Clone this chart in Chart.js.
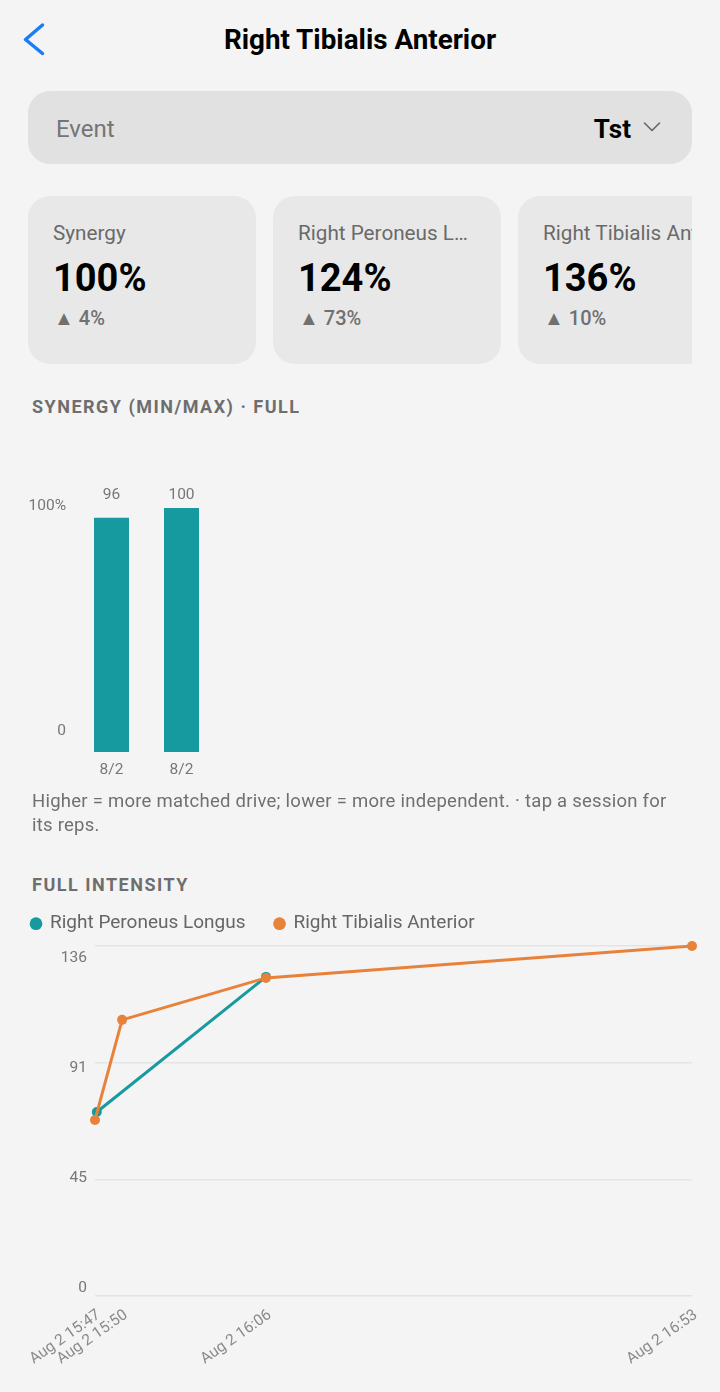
<!DOCTYPE html>
<html>
<head>
<meta charset="utf-8">
<script src="https://cdn.jsdelivr.net/npm/chart.js@4.4.1/dist/chart.umd.min.js"></script>
<style>
    html, body { margin: 0; padding: 0; }
    body { width: 720px; height: 1392px; background: #f4f4f4; position: relative; overflow: hidden; font-family: Roboto, "Noto Sans", sans-serif; }
    .abs { position: absolute; }
    .title { left: 0; width: 720px; top: 23px; text-align: center; font-size: 27.8px; font-weight: 700; color: #000; line-height: 34px; }
    .dropdown { left: 28px; top: 91px; width: 664px; height: 73px; border-radius: 22px; background: #e1e1e1; }
    .dropdown .label { left: 28px; top: 2px; line-height: 73px; font-size: 24px; color: #757575; }
    .dropdown .value { right: 61px; top: 2px; line-height: 73px; font-size: 26px; font-weight: 700; color: #000; }
    .cards { left: 28px; top: 196px; width: 664px; height: 168px; overflow: hidden; }
    .card { top: 0; width: 228px; height: 168px; border-radius: 22px; background: #e8e8e8; }
    .card .name { left: 25px; top: 24px; font-size: 20.7px; color: #6a6a6a; white-space: nowrap; line-height: 26px; }
    .card .big { left: 25px; top: 59px; font-size: 38px; font-weight: 700; color: #000; line-height: 46px; }
    .card .delta { left: 26px; top: 110px; font-size: 20px; font-weight: 500; color: #707070; line-height: 24px; }
    .section { left: 32px; font-size: 18px; font-weight: 700; color: #6e6e6e; letter-spacing: 1.5px; line-height: 22px; }
    .note { left: 32px; top: 789px; width: 650px; font-size: 18.5px; letter-spacing: 0.25px; color: #707070; line-height: 24px; }
</style>
</head>
<body>
<svg class="abs" style="left:0;top:0" width="60" height="70">
    <polyline points="42.5,25 25.5,39.5 42.5,53.5" fill="none" stroke="#1a7df5" stroke-width="3.5" stroke-linecap="round" stroke-linejoin="round"/>
</svg>
<div class="abs title">Right Tibialis Anterior</div>

<div class="abs dropdown">
    <div class="abs label">Event</div>
    <div class="abs value">Tst</div>
    <svg class="abs" style="left:612px;top:28px" width="24" height="16">
        <polyline points="4.5,4 12,11.5 19.5,4" fill="none" stroke="#666" stroke-width="1.6" stroke-linecap="round" stroke-linejoin="round"/>
    </svg>
</div>

<div class="abs cards">
    <div class="abs card" style="left:0">
        <div class="abs name">Synergy</div>
        <div class="abs big">100%</div>
        <div class="abs delta">▲ 4%</div>
    </div>
    <div class="abs card" style="left:245px">
        <div class="abs name">Right Peroneus L…</div>
        <div class="abs big">124%</div>
        <div class="abs delta">▲ 73%</div>
    </div>
    <div class="abs card" style="left:490px">
        <div class="abs name">Right Tibialis Anterior</div>
        <div class="abs big">136%</div>
        <div class="abs delta">▲ 10%</div>
    </div>
</div>

<div class="abs section" style="top:396px">SYNERGY (MIN/MAX) · FULL</div>
<div class="abs" style="left:20px;top:470px;width:200px;height:320px"><canvas id="synergyChart"></canvas></div>
<div class="abs note">Higher = more matched drive; lower = more independent. · tap a session for its reps.</div>

<div class="abs section" style="top:874px">FULL INTENSITY</div>
<div class="abs" style="left:0;top:860px;width:720px;height:532px"><canvas id="intensityChart"></canvas></div>

<script>
// synergy bars (min / max per session)
const synergyLabels = ['8/2', '8/2'];
const synergyValues = [96, 100];
const synergyTickLabels = ['0', '100%'];

// full intensity, per session time
const sessionDay = 'Aug 2';
const peroneusTimes = ['15:47:30', '16:06:12'];
const peroneusValues = [71.5, 124];
const tibialisTimes = ['15:47:18', '15:50:18', '16:06:12', '16:53:18'];
const tibialisValues = [68.4, 107.3, 123.6, 136];
const intensityMax = 136;
const intensityTickLabels = ['0', '45', '91', '136'];

const TEAL = '#179a9f';
const ORANGE = '#e8823a';

function toMinutes(t) {
    const p = t.split(':').map(Number);
    return p[0] * 60 + p[1] + p[2] / 60;
}
function fmtTime(v) {
    const h = Math.floor(v / 60);
    const m = Math.floor(v % 60);
    return sessionDay + ' ' + h + ':' + String(m).padStart(2, '0');
}

document.addEventListener('DOMContentLoaded', function() {
    Chart.defaults.font.family = 'Roboto, "Noto Sans", sans-serif';
    Chart.defaults.animation = false;

    // ================================================================
    // 1. SYNERGY BAR CHART
    // ================================================================
    const barValueLabels = {
        id: 'barValueLabels',
        afterDatasetsDraw(chart) {
            const ctx = chart.ctx;
            const meta = chart.getDatasetMeta(0);
            ctx.save();
            ctx.font = '15.5px Roboto';
            ctx.fillStyle = '#777';
            ctx.textAlign = 'center';
            ctx.textBaseline = 'middle';
            meta.data.forEach((bar, i) => {
                ctx.fillText(String(synergyValues[i]), bar.x, chart.chartArea.top - 8);
            });
            ctx.restore();
        }
    };

    new Chart(document.getElementById('synergyChart'), {
        type: 'bar',
        data: {
            labels: synergyLabels,
            datasets: [{
                data: synergyValues,
                backgroundColor: TEAL,
                barPercentage: 0.5,
                categoryPercentage: 1
            }]
        },
        options: {
            responsive: true,
            maintainAspectRatio: false,
            layout: { padding: { top: 33, right: 3.5, left: 0, bottom: 0 } },
            plugins: { legend: { display: false }, tooltip: { enabled: false } },
            scales: {
                x: {
                    grid: { display: false, drawTicks: false },
                    border: { display: false },
                    ticks: { color: '#777', font: { size: 15.5 }, padding: 9 },
                    afterFit: s => { s.height = 38; }
                },
                y: { display: false, min: 0, max: 102 },
                yLabels: {
                    position: 'left',
                    min: -0.0934, max: 1.0128,   // places the two labels where the app draws them
                    grid: { display: false, drawTicks: false },
                    border: { display: false },
                    afterBuildTicks: s => { s.ticks = synergyTickLabels.map((_, i) => ({ value: i })); },
                    ticks: { color: '#777', font: { size: 15.5 }, padding: 10.5, callback: (v, i) => synergyTickLabels[i] },
                    afterFit: s => { s.width = 56.5; }
                }
            }
        },
        plugins: [barValueLabels]
    });

    // ================================================================
    // 2. FULL INTENSITY LINE CHART
    // ================================================================
    const peroneusPoints = peroneusTimes.map((t, i) => ({ x: toMinutes(t), y: peroneusValues[i] }));
    const tibialisPoints = tibialisTimes.map((t, i) => ({ x: toMinutes(t), y: tibialisValues[i] }));
    const allX = peroneusPoints.concat(tibialisPoints).map(p => p.x);
    const tickX = tibialisPoints.map(p => p.x);

    const legendGap = {
        id: 'legendGap',
        beforeInit(chart) {
            const fit = chart.legend.fit;
            chart.legend.fit = function() {
                fit.bind(chart.legend)();
                this.height += 2.8;
            };
        }
    };

    new Chart(document.getElementById('intensityChart'), {
        type: 'line',
        data: {
            datasets: [
                {
                    label: 'Right Peroneus Longus',
                    data: peroneusPoints,
                    borderColor: TEAL,
                    backgroundColor: TEAL,
                    borderWidth: 3,
                    pointRadius: 5,
                    pointBorderWidth: 0,
                    tension: 0,
                    clip: 10,
                    order: 1
                },
                {
                    label: 'Right Tibialis Anterior',
                    data: tibialisPoints,
                    borderColor: ORANGE,
                    backgroundColor: ORANGE,
                    borderWidth: 3,
                    pointRadius: 5,
                    pointBorderWidth: 0,
                    tension: 0,
                    clip: 10,
                    order: 0
                }
            ]
        },
        options: {
            responsive: true,
            maintainAspectRatio: false,
            layout: { padding: { top: 24.7, left: 2, right: 28, bottom: 0 } },
            plugins: {
                legend: {
                    align: 'start',
                    labels: {
                        usePointStyle: true, pointStyle: 'circle',
                        boxWidth: 9, boxHeight: 9, padding: 29.5,
                        color: '#666', font: { size: 19 },
                        sort: (a, b) => a.datasetIndex - b.datasetIndex
                    }
                },
                tooltip: { enabled: false }
            },
            scales: {
                x: {
                    type: 'linear',
                    min: Math.min(...allX),
                    max: Math.max(...allX),
                    grid: { display: false, drawTicks: false },
                    border: { display: false },
                    afterBuildTicks: s => { s.ticks = tickX.map(v => ({ value: v })); },
                    ticks: {
                        autoSkip: false, minRotation: 35, maxRotation: 35,
                        color: '#8a8a8a', font: { size: 15.5 }, padding: 10, labelOffset: 4,
                        callback: v => fmtTime(v)
                    },
                    afterFit: s => { s.height = 96; }
                },
                y: {
                    min: 0, max: intensityMax,
                    grid: { color: '#e4e4e4', lineWidth: 1.5, drawTicks: false },
                    border: { display: false },
                    afterBuildTicks: s => { s.ticks = [0, 1, 2, 3].map(k => ({ value: intensityMax * k / 3 })); },
                    ticks: { display: false },
                    afterFit: s => { s.width = 0; }
                },
                yLabels: {
                    position: 'left',
                    min: -0.0729, max: 3.109,   // labels sit slightly inside the grid lines
                    grid: { display: false, drawTicks: false },
                    border: { display: false },
                    afterBuildTicks: s => { s.ticks = intensityTickLabels.map((_, i) => ({ value: i })); },
                    ticks: { color: '#777', font: { size: 15.5 }, padding: 8, callback: (v, i) => intensityTickLabels[i] },
                    afterFit: s => { s.width = 93 ; }
                }
            }
        },
        plugins: [legendGap]
    });
});
</script>
</body>
</html>
